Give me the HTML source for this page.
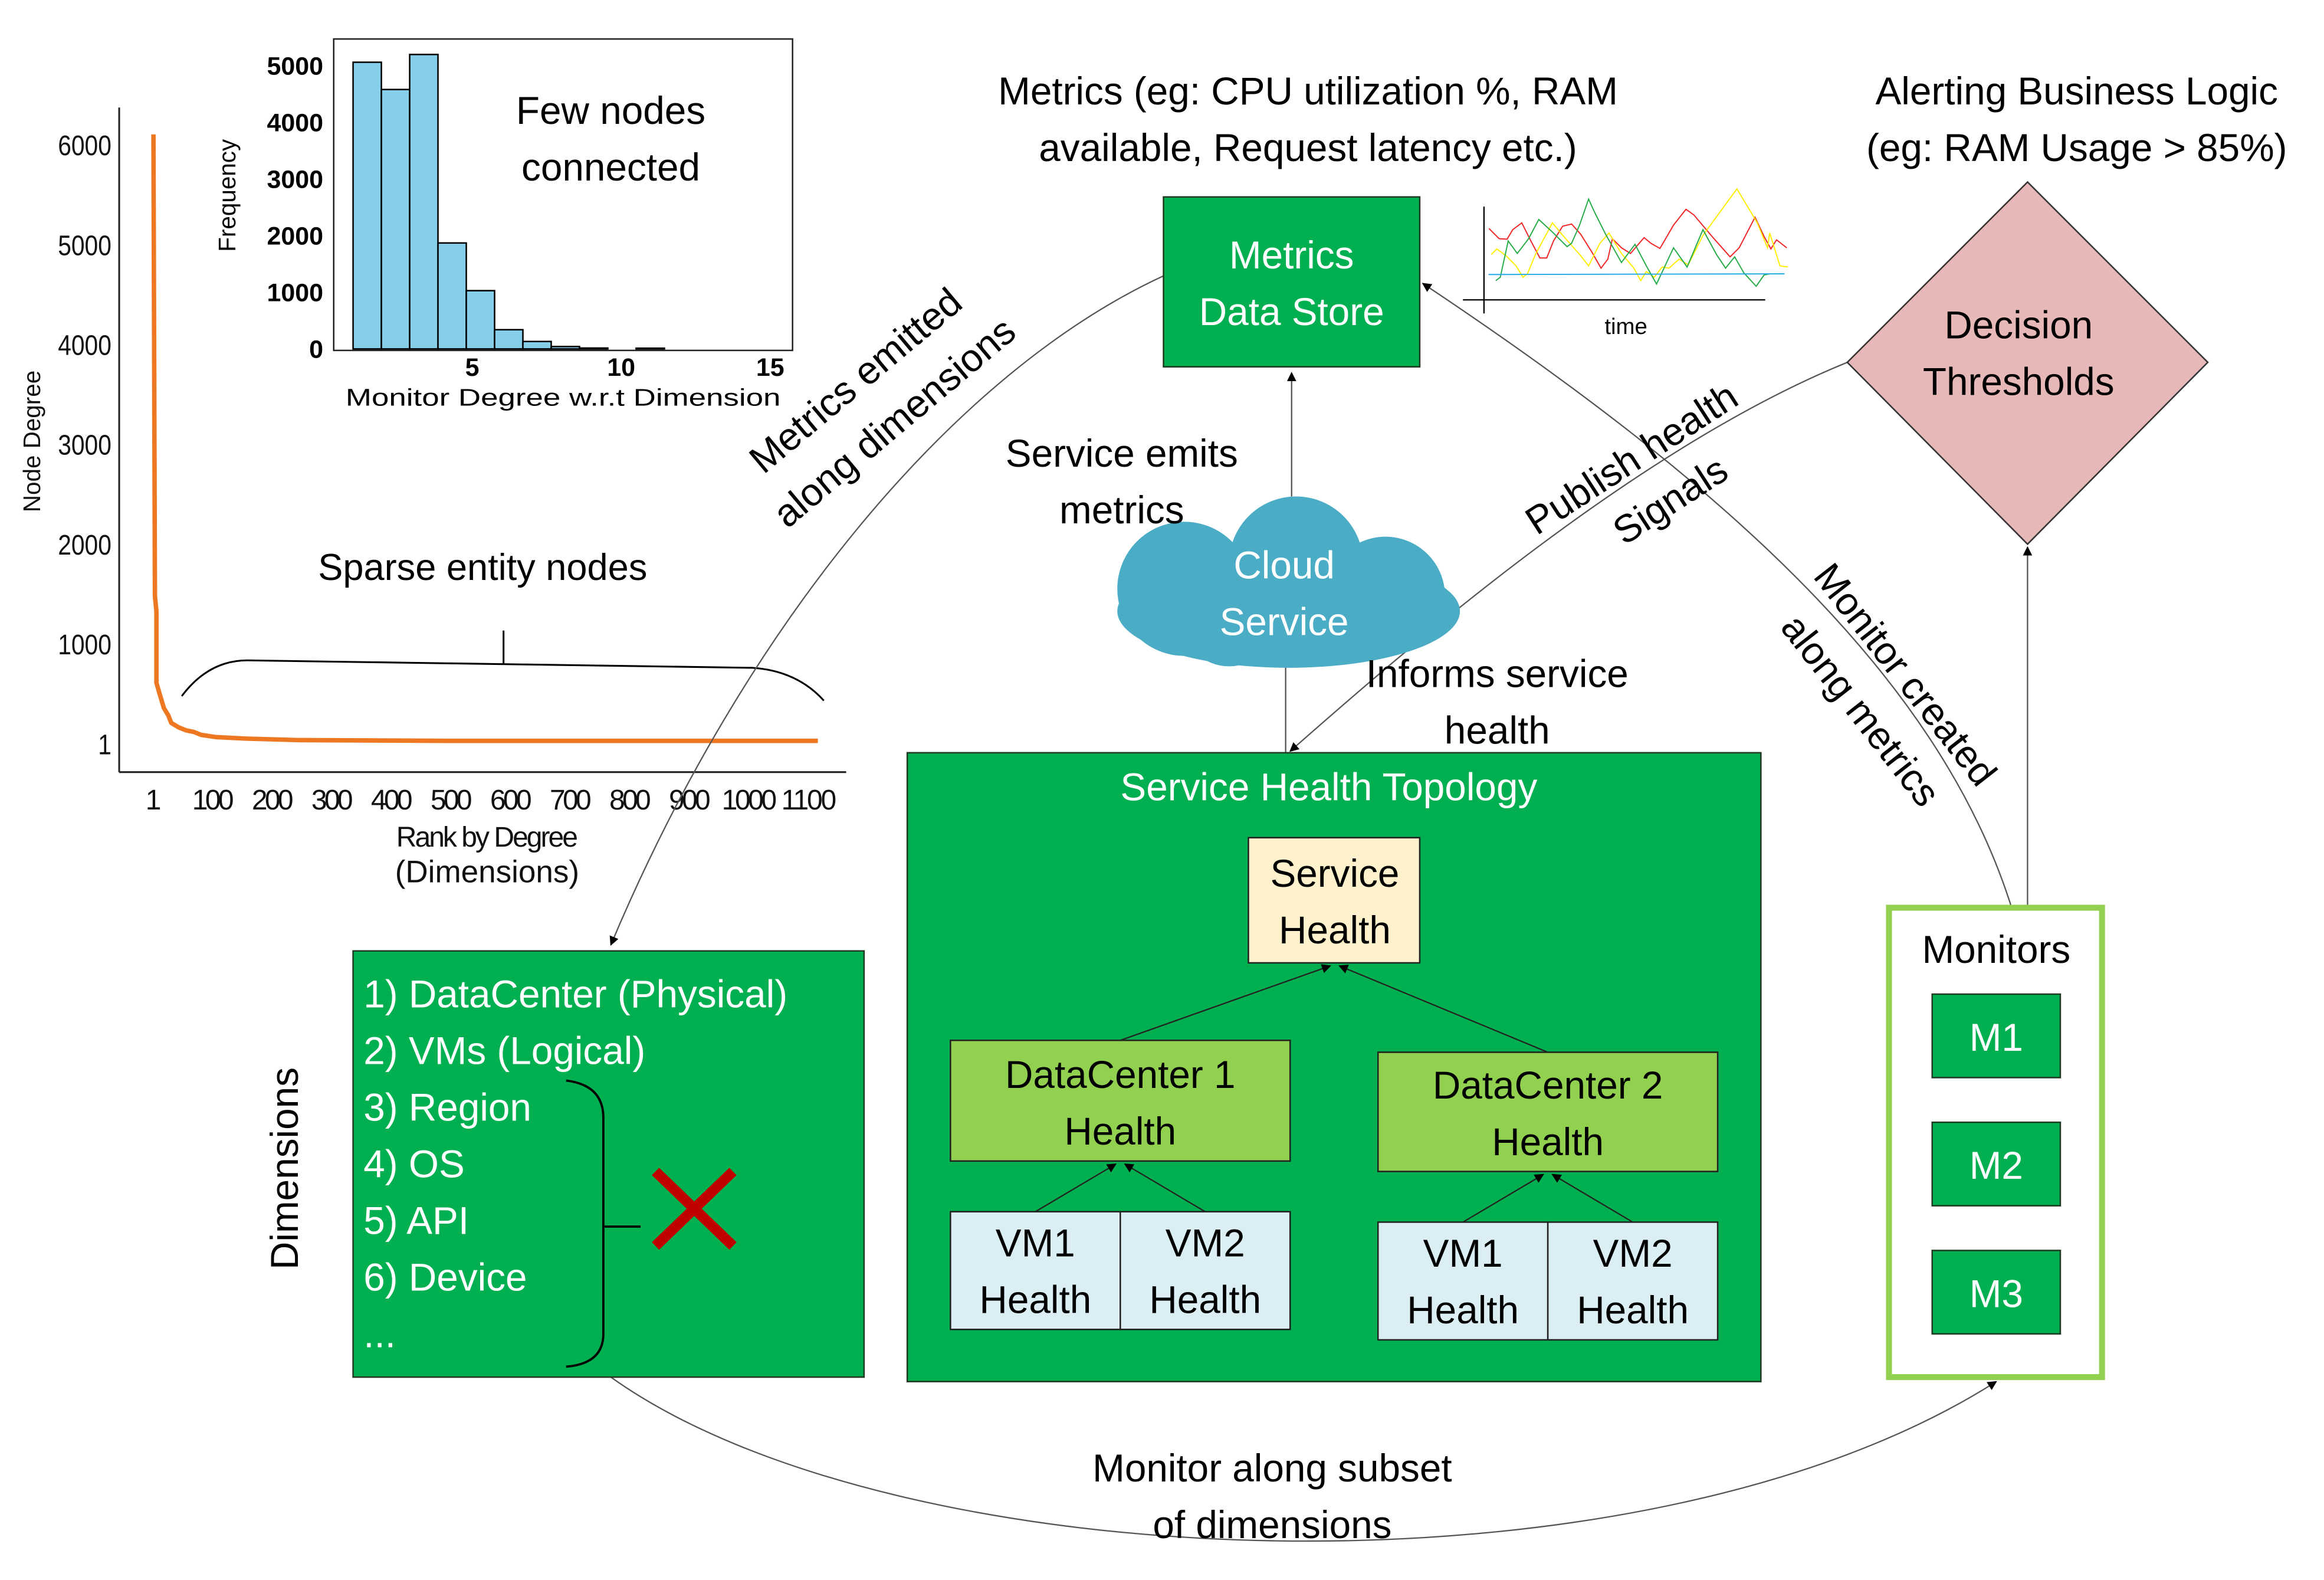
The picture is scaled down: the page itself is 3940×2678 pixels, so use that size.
<!DOCTYPE html>
<html><head><meta charset="utf-8"><style>
html,body{margin:0;padding:0;background:#fff}
svg{display:block}
text{font-family:"Liberation Sans","DejaVu Sans",sans-serif}
</style></head><body>
<svg width="3940" height="2678" viewBox="0 0 1560 1060" xmlns="http://www.w3.org/2000/svg">
<defs>
<marker id="a" viewBox="0 0 10 10" refX="9" refY="5" markerWidth="7" markerHeight="7" orient="auto-start-reverse"><path d="M0,0L10,5L0,10z" fill="#000"/></marker>
</defs>
<rect width="1560" height="1060" fill="#fff"/>

<!-- main plot -->
<g font-size="19" fill="#111">
<line x1="80" y1="72" x2="80" y2="518" stroke="#222" stroke-width="1.2"/>
<line x1="80" y1="518" x2="568" y2="518" stroke="#222" stroke-width="1.2"/>
<g text-anchor="end" transform="scale(0.85,1)">
<text x="88" y="104">6000</text><text x="88" y="171">5000</text><text x="88" y="238">4000</text><text x="88" y="305">3000</text><text x="88" y="372">2000</text><text x="88" y="439">1000</text><text x="88" y="506">1</text>
</g>
<g text-anchor="middle" font-size="19">
<text x="103" y="543" textLength="8">1</text>
<text x="143" y="543" textLength="28">100</text><text x="183" y="543" textLength="28">200</text><text x="223" y="543" textLength="28">300</text><text x="263" y="543" textLength="28">400</text><text x="303" y="543" textLength="28">500</text><text x="343" y="543" textLength="28">600</text><text x="383" y="543" textLength="28">700</text><text x="423" y="543" textLength="28">800</text><text x="463" y="543" textLength="28">900</text><text x="503" y="543" textLength="37">1000</text><text x="543" y="543" textLength="37">1100</text>
<text x="327" y="568" textLength="122">Rank by Degree</text>
</g>
<text x="327" y="592" text-anchor="middle" font-size="21">(Dimensions)</text>
<text transform="translate(27,296) rotate(-90)" text-anchor="middle" font-size="16">Node Degree</text>
</g>
<path d="M103,90 L104,400 L105,410 L105,458 L107,465 L110,475 L113,480 L115,485 L120,488 L125,490 L130,491 L135,493 L145,494.5 L165,495.5 L200,496.5 L300,497 L549,497" fill="none" stroke="#ee7722" stroke-width="3"/>
<text x="324" y="389" text-anchor="middle" font-size="25">Sparse entity nodes</text>
<path d="M122,467 Q140,443 166,443 L505,448 Q535,450 553,470" fill="none" stroke="#000" stroke-width="1.2"/>
<line x1="338" y1="423" x2="338" y2="445" stroke="#000" stroke-width="1.2"/>

<!-- histogram inset -->
<rect x="224" y="26" width="308" height="209" fill="#fff" stroke="#222" stroke-width="1"/>
<g fill="#87ceeb" stroke="#000" stroke-width="1">
<rect x="237" y="41.6" width="19" height="192.4"/>
<rect x="256" y="59.9" width="19" height="174.1"/>
<rect x="275" y="36.4" width="19" height="197.6"/>
<rect x="294" y="162.9" width="19" height="71.1"/>
<rect x="313" y="194.9" width="19" height="39.1"/>
<rect x="332" y="221.1" width="19" height="12.9"/>
<rect x="351" y="229" width="19" height="5"/>
<rect x="370" y="232.4" width="19" height="1.6"/>
<rect x="389" y="233.4" width="19" height="0.6"/>
<rect x="427" y="233.5" width="19" height="0.5"/>
</g>
<g font-size="17" font-weight="bold" text-anchor="end">
<text x="217" y="50">5000</text><text x="217" y="88">4000</text><text x="217" y="126">3000</text><text x="217" y="164">2000</text><text x="217" y="202">1000</text><text x="217" y="240">0</text>
</g>
<g font-size="17" font-weight="bold" text-anchor="middle">
<text x="317" y="252">5</text><text x="417" y="252">10</text><text x="517" y="252">15</text>
</g>
<text x="378" y="272" text-anchor="middle" font-size="16" textLength="292" lengthAdjust="spacingAndGlyphs">Monitor Degree w.r.t Dimension</text>
<text transform="translate(158,131) rotate(-90)" text-anchor="middle" font-size="16">Frequency</text>
<text x="410" y="83" text-anchor="middle" font-size="26">Few nodes</text>
<text x="410" y="121" text-anchor="middle" font-size="26">connected</text>

<!-- connectors -->
<path d="M781,185 C640,250 500,420 410,634" fill="none" stroke="#555" stroke-width="0.9" marker-end="url(#a)"/>
<path d="M410,924 C600,1060 1100,1080 1340,927" fill="none" stroke="#555" stroke-width="0.9" marker-end="url(#a)"/>
<path d="M1350,608 C1300,450 1150,320 955,190" fill="none" stroke="#555" stroke-width="0.9" marker-end="url(#a)"/>
<path d="M1240,243 C1100,300 950,430 866,504" fill="none" stroke="#555" stroke-width="0.9" marker-end="url(#a)"/>
<line x1="867" y1="333" x2="867" y2="250" stroke="#555" stroke-width="0.9" marker-end="url(#a)"/>
<line x1="863" y1="505" x2="863" y2="439" stroke="#555" stroke-width="0.9" marker-end="url(#a)"/>
<line x1="1361" y1="608" x2="1361" y2="367" stroke="#555" stroke-width="0.9" marker-end="url(#a)"/>

<!-- Metrics text -->
<text x="878" y="70" text-anchor="middle" font-size="26">Metrics (eg: CPU utilization %, RAM</text>
<text x="878" y="108" text-anchor="middle" font-size="26">available, Request latency etc.)</text>
<rect x="781" y="132" width="172" height="114" fill="#00b050" stroke="#1f3a20" stroke-width="1"/>
<text x="867" y="180" text-anchor="middle" font-size="26" fill="#fff">Metrics</text>
<text x="867" y="218" text-anchor="middle" font-size="26" fill="#fff">Data Store</text>

<!-- time chart -->
<g transform="translate(982,119) scale(0.152)">
<line x1="0" y1="540" x2="1335" y2="540" stroke="#000" stroke-width="6"/>
<line x1="93" y1="128" x2="93" y2="600" stroke="#000" stroke-width="6"/>
<polyline fill="none" stroke="#ee2222" stroke-width="5" points="115,225 160,270 195,272 220,230 260,200 300,280 340,355 370,355 400,280 440,215 480,205 520,250 570,330 610,400 640,360 660,270 700,310 740,335 800,265 830,290 870,313 930,210 985,140 1020,165 1100,260 1180,350 1220,310 1290,175 1330,260 1360,315 1385,275 1430,310"/>
<polyline fill="none" stroke="#ffee00" stroke-width="5" points="125,340 150,315 190,345 235,390 265,440 285,425 320,340 395,200 445,260 520,345 555,390 605,290 645,245 700,335 755,400 785,455 810,415 845,440 880,395 910,400 955,360 995,385 1060,255 1210,50 1300,200 1345,310 1355,245 1400,390 1435,395"/>
<polyline fill="none" stroke="#22aa44" stroke-width="5" points="145,455 165,440 200,280 240,335 290,270 335,185 400,245 460,305 480,290 515,210 555,95 580,150 630,250 700,375 760,295 810,390 855,470 930,310 990,395 1060,230 1120,340 1160,400 1200,350 1240,420 1295,480 1330,430 1355,425"/>
<line x1="113" y1="428" x2="1420" y2="425" stroke="#22aaee" stroke-width="5"/>
<text x="720" y="690" text-anchor="middle" font-size="100">time</text>
</g>

<!-- Cloud -->
<g fill="#4bacc6">
<ellipse cx="865" cy="410" rx="115" ry="38"/>
<circle cx="795" cy="395" r="45"/>
<circle cx="870" cy="378" r="45"/>
<circle cx="930" cy="400" r="40"/>
<circle cx="825" cy="415" r="32"/>
</g>
<text x="862" y="388" text-anchor="middle" font-size="26" fill="#fff">Cloud</text>
<text x="862" y="426" text-anchor="middle" font-size="26" fill="#fff">Service</text>
<text x="753" y="313" text-anchor="middle" font-size="26">Service emits</text>
<text x="753" y="351" text-anchor="middle" font-size="26">metrics</text>
<text x="1005" y="461" text-anchor="middle" font-size="26">Informs service</text>
<text x="1005" y="499" text-anchor="middle" font-size="26">health</text>

<!-- Diamond -->
<text x="1394" y="70" text-anchor="middle" font-size="26">Alerting Business Logic</text>
<text x="1394" y="108" text-anchor="middle" font-size="26">(eg: RAM Usage &gt; 85%)</text>
<polygon points="1361,122 1482,243 1361,365 1240,243" fill="#e6b8b7" stroke="#333" stroke-width="1"/>
<text x="1355" y="227" text-anchor="middle" font-size="26">Decision</text>
<text x="1355" y="265" text-anchor="middle" font-size="26">Thresholds</text>

<!-- rotated labels -->
<text transform="translate(580,262) rotate(-40)" text-anchor="middle" font-size="26">Metrics emitted</text>
<text transform="translate(606,290) rotate(-40)" text-anchor="middle" font-size="26">along dimensions</text>
<text transform="translate(1100,315) rotate(-33)" text-anchor="middle" font-size="26">Publish health</text>
<text transform="translate(1126,343) rotate(-33)" text-anchor="middle" font-size="26">Signals</text>
<text transform="translate(1272,458) rotate(52)" text-anchor="middle" font-size="26">Monitor created</text>
<text transform="translate(1242,482) rotate(52)" text-anchor="middle" font-size="26">along metrics</text>

<!-- Topology -->
<rect x="609" y="505" width="573" height="422" fill="#00b050" stroke="#1f3a20" stroke-width="1"/>
<text x="892" y="537" text-anchor="middle" font-size="26" fill="#fff">Service Health Topology</text>
<rect x="838" y="562" width="115" height="84" fill="#fff2cc" stroke="#222" stroke-width="1"/>
<text x="896" y="595" text-anchor="middle" font-size="26">Service</text>
<text x="896" y="633" text-anchor="middle" font-size="26">Health</text>
<line x1="752" y1="698" x2="893" y2="648" stroke="#222" stroke-width="0.9" marker-end="url(#a)"/>
<line x1="1039" y1="706" x2="899" y2="648" stroke="#222" stroke-width="0.9" marker-end="url(#a)"/>
<rect x="638" y="698" width="228" height="81" fill="#92d050" stroke="#222" stroke-width="1"/>
<text x="752" y="730" text-anchor="middle" font-size="26">DataCenter 1</text>
<text x="752" y="768" text-anchor="middle" font-size="26">Health</text>
<rect x="925" y="706" width="228" height="80" fill="#92d050" stroke="#222" stroke-width="1"/>
<text x="1039" y="737" text-anchor="middle" font-size="26">DataCenter 2</text>
<text x="1039" y="775" text-anchor="middle" font-size="26">Health</text>
<line x1="695" y1="813" x2="749" y2="781" stroke="#222" stroke-width="0.9" marker-end="url(#a)"/>
<line x1="809" y1="813" x2="755" y2="781" stroke="#222" stroke-width="0.9" marker-end="url(#a)"/>
<line x1="982" y1="820" x2="1036" y2="788" stroke="#222" stroke-width="0.9" marker-end="url(#a)"/>
<line x1="1096" y1="820" x2="1042" y2="788" stroke="#222" stroke-width="0.9" marker-end="url(#a)"/>
<g fill="#daeef3" stroke="#222" stroke-width="1">
<rect x="638" y="813" width="114" height="79"/><rect x="752" y="813" width="114" height="79"/>
<rect x="925" y="820" width="114" height="79"/><rect x="1039" y="820" width="114" height="79"/>
</g>
<g text-anchor="middle" font-size="26">
<text x="695" y="843">VM1</text><text x="695" y="881">Health</text>
<text x="809" y="843">VM2</text><text x="809" y="881">Health</text>
<text x="982" y="850">VM1</text><text x="982" y="888">Health</text>
<text x="1096" y="850">VM2</text><text x="1096" y="888">Health</text>
</g>

<!-- Dimensions -->
<rect x="237" y="638" width="343" height="286" fill="#00b050" stroke="#1f3a20" stroke-width="1"/>
<g font-size="26" fill="#fff">
<text x="244" y="676">1) DataCenter (Physical)</text>
<text x="244" y="714">2) VMs (Logical)</text>
<text x="244" y="752">3) Region</text>
<text x="244" y="790">4) OS</text>
<text x="244" y="828">5) API</text>
<text x="244" y="866">6) Device</text>
<text x="244" y="904">...</text>
</g>
<path d="M380,725 Q405,728 405,750 L405,895 Q405,915 380,917" fill="none" stroke="#000" stroke-width="1.5"/>
<line x1="405" y1="823" x2="430" y2="823" stroke="#000" stroke-width="1.5"/>
<path d="M440,786 L492,836 M492,786 L440,836" stroke="#c00000" stroke-width="7"/>
<text transform="translate(200,784) rotate(-90)" text-anchor="middle" font-size="26">Dimensions</text>

<!-- Monitors -->
<rect x="1268" y="609" width="143" height="315" fill="#fff" stroke="#92d050" stroke-width="4"/>
<text x="1340" y="646" text-anchor="middle" font-size="26">Monitors</text>
<g fill="#00b050" stroke="#1f3a20" stroke-width="1">
<rect x="1297" y="667" width="86" height="56"/><rect x="1297" y="753" width="86" height="56"/><rect x="1297" y="839" width="86" height="56"/>
</g>
<g text-anchor="middle" font-size="26" fill="#fff">
<text x="1340" y="705">M1</text><text x="1340" y="791">M2</text><text x="1340" y="877">M3</text>
</g>

<text x="854" y="994" text-anchor="middle" font-size="26">Monitor along subset</text>
<text x="854" y="1032" text-anchor="middle" font-size="26">of dimensions</text>
</svg>
</body></html>
